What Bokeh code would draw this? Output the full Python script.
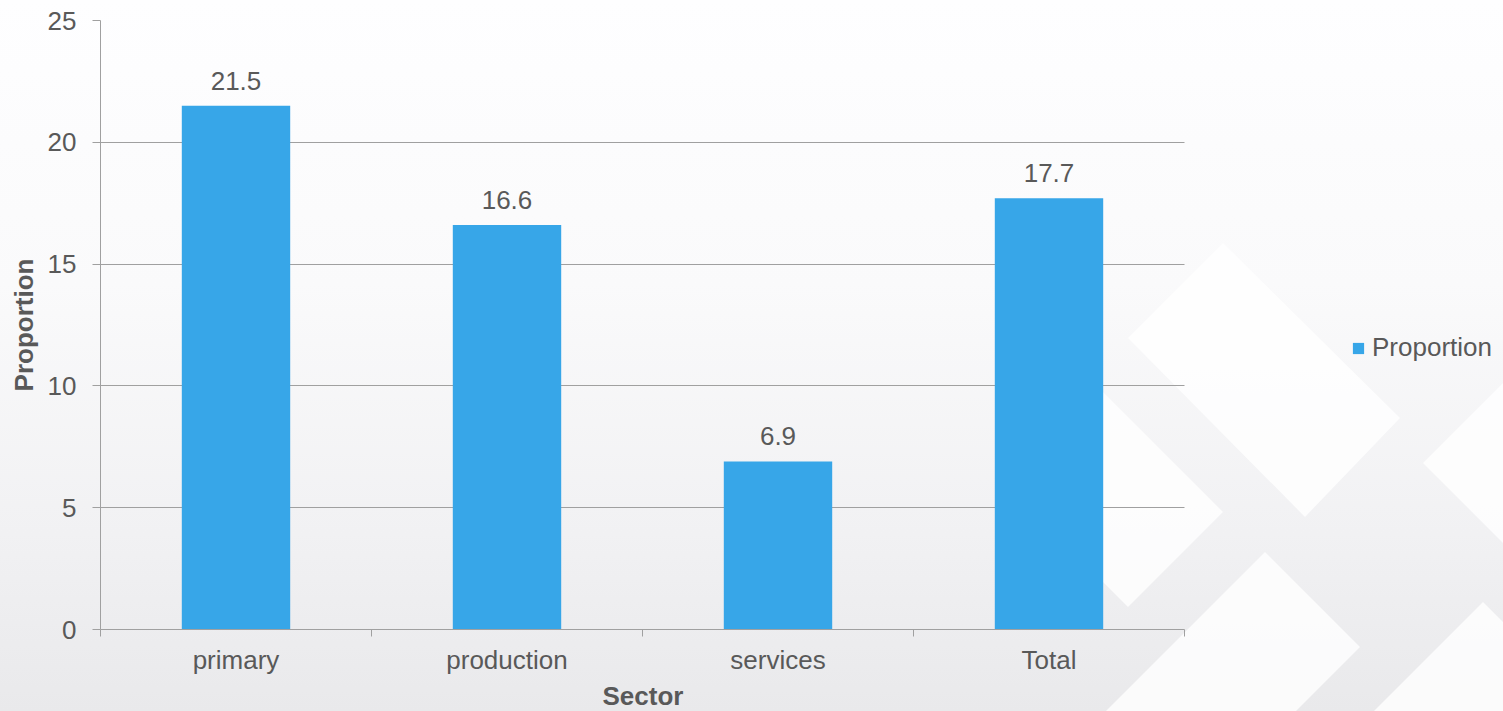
from urllib.parse import quote
from bokeh.plotting import figure
from bokeh.models import (ColumnDataSource, Range1d, FixedTicker, Legend,
                          LegendItem, Title)
from bokeh.core.properties import value
from bokeh.embed import file_html
from bokeh.resources import INLINE

# ---- data ----
categories = ["primary", "production", "services", "Total"]
proportion = [21.5, 16.6, 6.9, 17.7]
y_ticks = [0, 5, 10, 15, 20, 25]
series_name = "Proportion"
x_title = "Sector"
y_title = "Proportion"

FONT = "Liberation Sans"
TXT = "#595959"
GRID = "#a0a0a0"
BAR = "#37a6e8"
FS = "26px"
W, H = 1503, 711
LEFT, TOP, BOTTOM = 100, 20, 82
PLOT_W = 1084          # width of the category area in pixels
n = len(categories)
x_end = n * (W - LEFT) / PLOT_W   # frame extends to the right edge (room for legend)

centers = [i + 0.5 for i in range(n)]
src = ColumnDataSource(dict(x=centers, top=proportion,
                            label=[f"{v:.1f}" for v in proportion]))

p = figure(width=W, height=H, x_range=Range1d(0, x_end),
           y_range=Range1d(0, 25), output_backend="svg", toolbar_location=None,
           min_border_left=LEFT, min_border_right=0, min_border_top=TOP,
           min_border_bottom=BOTTOM)
p.outline_line_color = None
p.background_fill_color = None
p.border_fill_color = None

# decorative background (gradient + soft white diamonds)
polys = [
    "1223,243 1400,418 1305,517 1128,338",
    "1223,512 1128,607 1008,487 1103,392",
    "1265,552 1360,647 1287,720 1097,720",
    "1423,463 1520,366 1520,560",
    "1483,602 1520,639 1520,720 1365,720",
]
svg = (f"<svg xmlns='http://www.w3.org/2000/svg' width='{W}' height='{H}'>"
       + "".join(f"<polygon points='{pt}' fill='white' fill-opacity='0.8'/>" for pt in polys)
       + "</svg>")
p.styles = {
    "background-image": f"url(\"data:image/svg+xml,{quote(svg)}\"), "
                        "linear-gradient(to bottom, #fefeff 0%, #fafafb 40%, #f1f1f3 75%, #e9e9eb 100%)",
    "background-repeat": "no-repeat",
}

r = p.vbar(x="x", top="top", width=0.4, source=src, fill_color=BAR, line_color=None)

p.text(x="x", y="top", text="label", source=src, text_align="center",
       text_baseline="middle", y_offset=-25, text_font=value(FONT),
       text_font_size=value(FS), text_color=TXT)

# x axis: labels at centres, tick marks at category boundaries
xa = p.xaxis[0]
xa.bounds = (0, n)
xa.ticker = FixedTicker(ticks=centers, minor_ticks=list(range(n + 1)))
xa.major_label_overrides = {c: lab for c, lab in zip(centers, categories)}
xa.major_tick_out = 0
xa.major_tick_in = 0
xa.minor_tick_out = 7
xa.minor_tick_in = 0
xa.minor_tick_line_color = GRID
xa.axis_line_color = GRID
xa.major_label_text_font = FONT
xa.major_label_text_font_size = FS
xa.major_label_text_color = TXT
xa.major_label_standoff = 8

ya = p.yaxis[0]
ya.ticker = FixedTicker(ticks=y_ticks)
ya.major_tick_out = 8
ya.major_tick_in = 0
ya.minor_tick_out = 0
ya.minor_tick_in = 0
ya.major_tick_line_color = GRID
ya.axis_line_color = GRID
ya.major_label_text_font = FONT
ya.major_label_text_font_size = FS
ya.major_label_text_color = TXT
ya.major_label_standoff = 16
ya.axis_label = y_title
ya.axis_label_text_font = FONT
ya.axis_label_text_font_size = FS
ya.axis_label_text_font_style = "bold"
ya.axis_label_text_color = TXT
ya.axis_label_standoff = 6

p.xgrid.visible = False
p.ygrid.grid_line_color = GRID
p.ygrid.grid_line_width = 1
p.ygrid.cross_bounds = (0, n)

# x-axis title, centred under the category area
p.add_layout(Title(text=x_title, align="left", offset=502, standoff=2,
                   text_font=FONT, text_font_size=FS, text_font_style="bold",
                   text_color=TXT), "below")

legend = Legend(items=[LegendItem(label=series_name, renderers=[r])],
                location=(1251, 266), padding=0, margin=0,
                border_line_color=None, background_fill_alpha=0,
                glyph_width=14, glyph_height=14, label_standoff=7,
                label_text_font=FONT, label_text_font_size=FS,
                label_text_color=TXT)
p.add_layout(legend)

open("out.html", "w").write(file_html(p, INLINE))
